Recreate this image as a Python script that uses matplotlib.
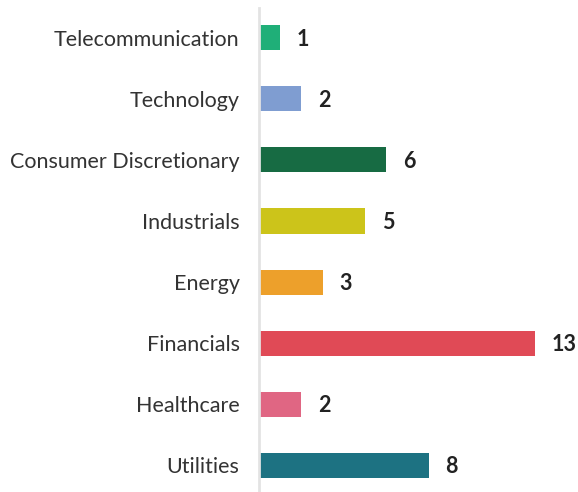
import matplotlib
matplotlib.use("Agg")
import matplotlib.pyplot as plt

categories = ["Telecommunication", "Technology", "Consumer Discretionary", "Industrials",
              "Energy", "Financials", "Healthcare", "Utilities"]
values = [1, 2, 6, 5, 3, 13, 2, 8]
colors = ["#1FAF78", "#7F9DD1", "#176B43", "#CCC41A", "#EDA02B", "#E04A56", "#E06683", "#1D7282"]

plt.rcParams['font.family'] = ['Lato', 'DejaVu Sans']

fig = plt.figure(figsize=(5.78, 4.92), dpi=100)
ax = fig.add_axes([259/578, 0, 318/578, 484/492])

pos = list(range(len(categories)))
ax.barh(pos, values, height=0.41, color=colors)
ax.set_ylim(7.44, -0.49)
ax.set_xlim(0, 15)

for p, v in zip(pos, values):
    ax.annotate(str(v), (v, p), xytext=(12, -1), textcoords="offset points",
                va="center", ha="left", fontsize=15.5, fontweight="bold", color="#222222")

ax.set_yticks(pos)
ax.set_yticklabels(categories, fontsize=15.5, color="#333333")
ax.tick_params(axis="y", length=0, pad=14)
ax.set_xticks([])
for s in ["top", "right", "bottom"]:
    ax.spines[s].set_visible(False)
ax.spines["left"].set_color("#e3e3e3")
ax.spines["left"].set_linewidth(2)

fig.savefig("out.png", dpi=100)
